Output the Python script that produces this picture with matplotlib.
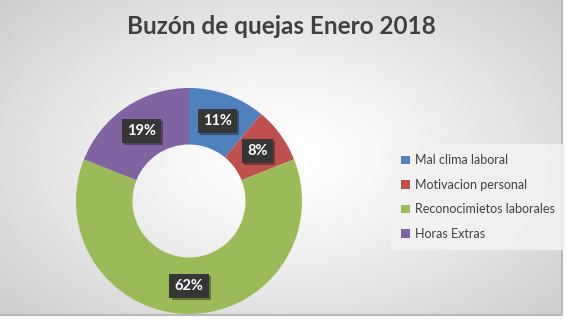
""" Donut chart: Buzon de quejas Enero 2018 """

import numpy as np
import matplotlib
matplotlib.use("Agg")
from matplotlib import pyplot as plt
from matplotlib import patheffects

categories = ["Mal clima laboral", "Motivacion personal",
              "Reconocimietos laborales", "Horas Extras"]
shares = [11, 8, 62, 19]
colors = ["#4F81BD", "#C0504D", "#9BBB59", "#8064A2"]
title = "Buzón de quejas Enero 2018"

plt.rcParams["font.family"] = ["Lato", "DejaVu Sans"]

W, H = 570, 324
fig = plt.figure(figsize=(W / 100, H / 100), dpi=100)
fig.patch.set_facecolor("white")

# background panel with a soft radial gradient
bg = fig.add_axes([0, (H - 315) / H, 562 / W, 315 / H])
yy, xx = np.mgrid[-1:1:200j, -1:1:360j]
r = np.sqrt(xx ** 2 + (yy * 0.9) ** 2) / np.sqrt(1 + 0.81)
shade = 1.0 - 0.2 * r ** 1.3
bg.imshow(shade, cmap="gray", vmin=0, vmax=1, aspect="auto",
          extent=[0, 1, 0, 1])
bg.plot([0, 1, 1], [0, 0, 1], color="#b8b8b8", lw=1.5,
        transform=bg.transAxes, clip_on=False)
bg.set_axis_off()

# donut
cx, cy, rad = 189, 201, 113
ax = fig.add_axes([(cx - rad) / W, (H - cy - rad) / H, 2 * rad / W, 2 * rad / H])
wedges, _ = ax.pie(shares, colors=colors, startangle=90, counterclock=False,
                   radius=1.0, wedgeprops=dict(width=0.5, edgecolor="none"))
ax.set_xlim(-1, 1)
ax.set_ylim(-1, 1)
ax.set_aspect("equal")
ax.set_axis_off()

total = float(sum(shares))
start = 90.0
for val in shares:
    ang = np.deg2rad(start - val / total * 360 / 2)
    start -= val / total * 360
    ax.text(0.75 * np.cos(ang), 0.75 * np.sin(ang), "%d%%" % val,
            ha="center", va="center", color="white", fontsize=10.5,
            fontweight="bold",
            bbox=dict(boxstyle="square,pad=0.35", facecolor="#363636",
                      edgecolor="none",
                      path_effects=[patheffects.withSimplePatchShadow(
                          offset=(1.5, -1.5), alpha=0.4)]))

fig.text(281 / W, 1 - 27 / H, title, ha="center", va="center",
         fontsize=17.5, fontweight="bold", color="#404040")

leg = fig.legend(wedges, categories, loc="upper left",
                 bbox_to_anchor=(385 / W, 1 - 138 / H),
                 frameon=True, fancybox=False, fontsize=9,
                 handlelength=0.7, handleheight=0.7, handletextpad=0.4,
                 labelspacing=1.0, borderpad=0.8, labelcolor="#404040")
leg.get_frame().set_facecolor("#f2f2f2")
leg.get_frame().set_edgecolor("none")
leg.get_frame().set_alpha(0.9)

fig.savefig("out.png", dpi=100)
